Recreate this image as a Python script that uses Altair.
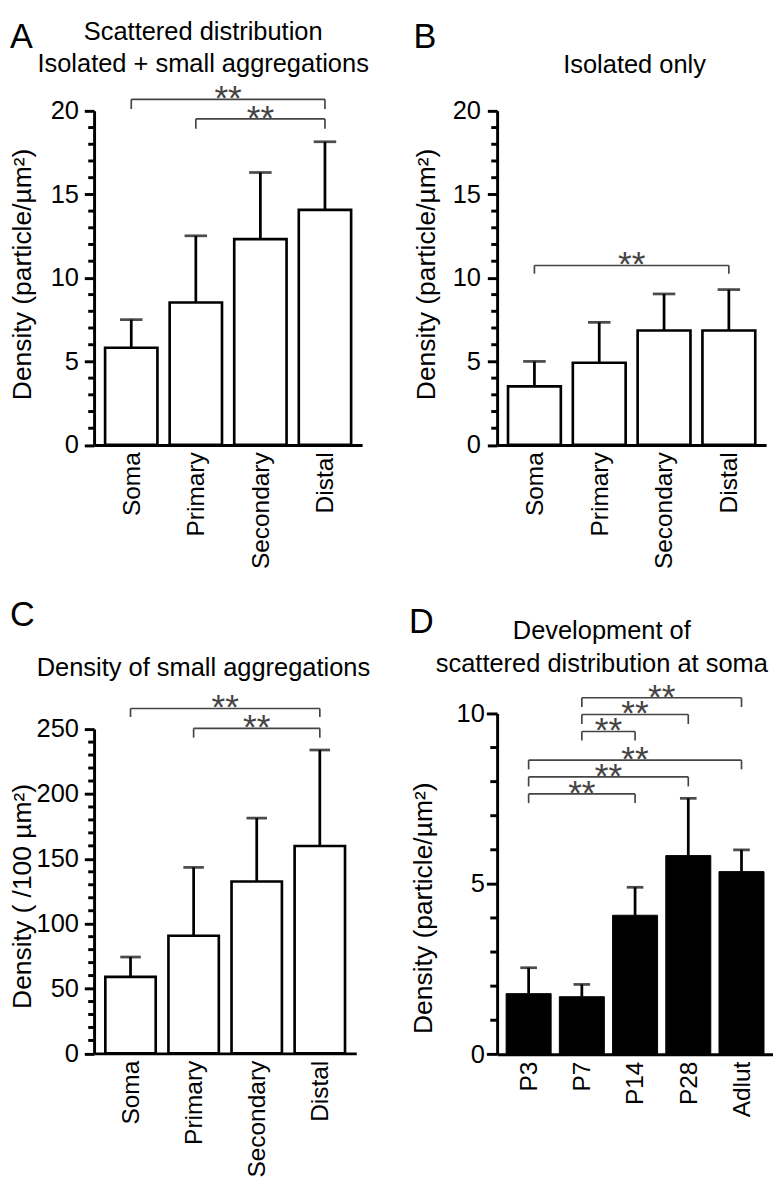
import altair as alt
import pandas as pd

FONT = "Liberation Sans"
GRAY = "#444444"

# ---------------- data ----------------
regions = ["Soma", "Primary", "Secondary", "Distal"]
a_mean = [5.82, 8.53, 12.32, 14.07]
a_upper = [7.50, 12.52, 16.31, 18.15]
b_mean = [3.51, 4.92, 6.85, 6.85]
b_upper = [5.00, 7.34, 9.04, 9.30]
c_mean = [59.0, 90.7, 132.5, 159.9]
c_upper = [74.3, 143.4, 181.4, 233.9]
ages = ["P3", "P7", "P14", "P28", "Adlut"]
d_mean = [1.78, 1.69, 4.08, 5.83, 5.36]
d_upper = [2.54, 2.05, 4.90, 7.51, 6.00]

# significance brackets: left bar index, right bar index, bracket level, end of the drop
a_sig_from = [0, 1]
a_sig_to = [3, 3]
a_sig_level = [20.69, 19.52]
a_sig_end = [20.11, 18.93]
b_sig_from = [0]
b_sig_to = [3]
b_sig_level = [10.74]
b_sig_end = [10.25]
c_sig_from = [0, 1]
c_sig_to = [3, 3]
c_sig_level = [265.9, 250.6]
c_sig_end = [259.3, 243.4]
d_sig_from = [1, 1, 1, 0, 0, 0]
d_sig_to = [4, 3, 2, 4, 3, 2]
d_sig_level = [10.46, 9.97, 9.47, 8.63, 8.14, 7.64]
d_sig_end = [10.19, 9.69, 9.21, 8.36, 7.86, 7.37]

titles = {
    "A": "Scattered distribution\nIsolated + small aggregations",
    "B": "Isolated only",
    "C": "Density of small aggregations",
    "D": "Development of\nscattered distribution at soma",
}
ytitle_ab = "Density (particle/µm²)"
ytitle_c = "Density ( /100 µm²)"


def panel(cats, mean, upper, sfrom, sto, slev, send, ymax, major, minor,
          width, height, bar_width, cap_width, filled, ytitle,
          title, title_x, title_y, title_lh, letter, letter_x, letter_y,
          ytitle_x, ytitle_y, major_tick, minor_tick, label_pad):
    n = len(cats)
    df = pd.DataFrame({"i": list(range(n)), "cat": cats, "mean": mean, "upper": upper})
    sig = pd.DataFrame({"a": sfrom, "b": sto, "lev": slev, "end": send})
    sig["mid"] = (sig["a"] + sig["b"]) / 2
    minor_df = pd.DataFrame({"v": [float(v) for v in range(0, ymax + 1, minor) if v % major != 0]})

    xscale = alt.Scale(domain=[-0.5, n - 0.5], nice=False, zero=False)
    yscale = alt.Scale(domain=[0, ymax], nice=False, zero=True)
    label_expr = "[" + ",".join("'%s'" % c for c in cats) + "][datum.value]"
    xaxis = alt.Axis(values=list(range(n)), labelExpr=label_expr, labelAngle=270,
                     labelAlign="right", labelBaseline="middle", labelPadding=7,
                     ticks=False, tickSize=0, domainWidth=3, domainColor="black",
                     labelFont=FONT, labelFontSize=25, labelColor="black",
                     labelOverlap=False, labelFlush=False, title=None, grid=False)
    yaxis = alt.Axis(values=list(range(0, ymax + 1, major)),
                     ticks=True, tickSize=major_tick,
                     tickWidth=3, tickColor="black", domainWidth=3, domainColor="black",
                     labelPadding=label_pad, labelFont=FONT, labelFontSize=26,
                     labelColor="black", labelOverlap=False, labelFlush=False,
                     title=ytitle, titleFont=FONT, titleFontSize=27, titleFontWeight="normal",
                     titleColor="black", titleAngle=270, titleX=ytitle_x, titleY=ytitle_y,
                     titleAlign="center", titleBaseline="middle", grid=False)

    def X(f):
        return alt.X(f, scale=xscale, axis=xaxis)

    def Y(f):
        return alt.Y(f, scale=yscale, axis=yaxis)

    base = alt.Chart(df)
    if filled:
        bars = base.mark_bar(width=bar_width, fill="black", stroke="black", strokeWidth=1)
    else:
        bars = base.mark_bar(width=bar_width, fill="white", stroke="black", strokeWidth=2.7)
    bars = bars.encode(x=X("i:Q"), y=Y("mean:Q"))
    err = base.mark_rule(color="black", strokeWidth=2.8).encode(
        x=X("i:Q"), y=Y("mean:Q"), y2="upper:Q")
    cap = base.mark_tick(orient="horizontal", size=cap_width, thickness=2.8, color="black").encode(
        x=X("i:Q"), y=Y("upper:Q"))
    minor_ticks = alt.Chart(minor_df).mark_rule(color="black", strokeWidth=3).encode(
        y=Y("v:Q"), x=alt.value(-minor_tick), x2=alt.value(0))

    sbase = alt.Chart(sig)
    hline = sbase.mark_rule(color=GRAY, strokeWidth=1.7).encode(
        x=X("a:Q"), x2="b:Q", y=Y("lev:Q"))
    ldrop = sbase.mark_rule(color=GRAY, strokeWidth=1.7).encode(
        x=X("a:Q"), y=Y("lev:Q"), y2="end:Q")
    rdrop = sbase.mark_rule(color=GRAY, strokeWidth=1.7).encode(
        x=X("b:Q"), y=Y("lev:Q"), y2="end:Q")
    stars = sbase.mark_text(text="**", font=FONT, fontSize=36, color=GRAY,
                            align="center", baseline="alphabetic", dy=11).encode(
        x=X("mid:Q"), y=Y("lev:Q"))

    ttl = alt.Chart(pd.DataFrame({"t": [title]})).mark_text(
        font=FONT, fontSize=26, color="black", align="center", baseline="alphabetic",
        lineBreak="\n", lineHeight=title_lh).encode(
        text="t:N", x=alt.value(title_x), y=alt.value(title_y))
    let = alt.Chart(pd.DataFrame({"t": [letter]})).mark_text(
        font=FONT, fontSize=35, color="black", align="left", baseline="alphabetic").encode(
        text="t:N", x=alt.value(letter_x), y=alt.value(letter_y))

    return alt.layer(bars, err, cap, minor_ticks, hline, ldrop, rdrop, stars, ttl, let).properties(
        width=width, height=height)


pA = panel(regions, a_mean, a_upper, a_sig_from, a_sig_to, a_sig_level, a_sig_end,
           20, 5, 1, 274, 341.5, 53.5, 23, False, ytitle_ab,
           titles["A"], 111.5, -72.7, 32.5, "A", -86, -64,
           -72.5, 166.7, 10, 6, 6)
pB = panel(regions, b_mean, b_upper, b_sig_from, b_sig_to, b_sig_level, b_sig_end,
           20, 5, 1, 275, 341.5, 54, 23, False, ytitle_ab,
           titles["B"], 140.5, -38.3, 32.5, "B", -85.5, -64,
           -72, 166.7, 10, 6, 7)
pC = panel(regions, c_mean, c_upper, c_sig_from, c_sig_to, c_sig_level, c_sig_end,
           250, 50, 10, 268, 331.5, 51.5, 21, False, ytitle_c,
           titles["C"], 111.8, -54.3, 32.5, "C", -86, -105.9,
           -73.5, 170.5, 10, 6, 6)
pD = panel(ages, d_mean, d_upper, d_sig_from, d_sig_to, d_sig_level, d_sig_end,
           10, 5, 1, 282, 348.4, 46, 17, True, ytitle_ab,
           titles["D"], 107, -75.9, 34, "D", -90, -82.1,
           -75.5, 198.6, 11, 7, 2)

col1 = alt.vconcat(pA, pC, spacing=290, bounds="flush")
col2 = alt.vconcat(pB, pD, spacing=274, bounds="flush")
chart = alt.hconcat(col1, col2, spacing=39).properties(
    padding={"left": 0, "top": -2, "right": 0, "bottom": 0}
).configure_view(stroke=None).configure_axis(labelOverlap=False)

chart.save("out.html", embed_options={"renderer": "svg", "actions": False})
